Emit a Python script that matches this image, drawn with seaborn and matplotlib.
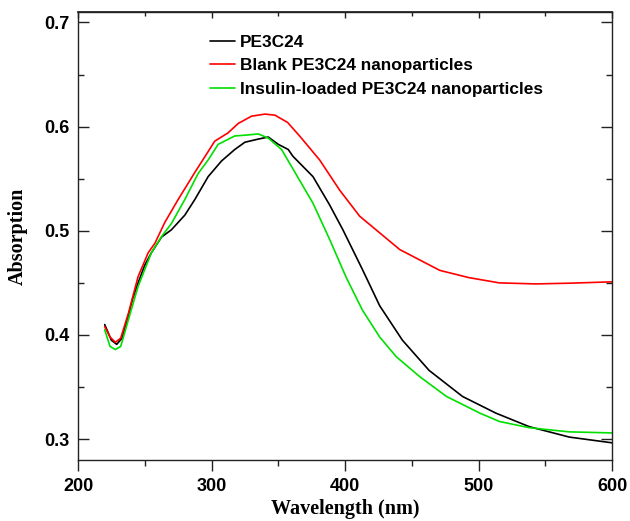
import numpy as np
import pandas as pd
import matplotlib
matplotlib.use("Agg")
import matplotlib.pyplot as plt
import seaborn as sns
from matplotlib.ticker import MultipleLocator

# ---- data ----
wl_black = [220, 225, 229, 233, 237.6, 241, 245, 250, 255, 262.6, 270, 280, 287.5,
            297.5, 307.5, 317.4, 325, 335, 342.5, 350, 357.5, 361, 376, 388.4, 398.4,
            413, 426, 443, 463, 488, 513, 538, 568, 600]
abs_black = [0.410, 0.395, 0.391, 0.397, 0.418, 0.435, 0.450, 0.467, 0.479, 0.494,
             0.501, 0.515, 0.530, 0.552, 0.567, 0.578, 0.585, 0.588, 0.590, 0.583,
             0.578, 0.5715, 0.552, 0.525, 0.501, 0.463, 0.428, 0.395, 0.366, 0.341,
             0.325, 0.312, 0.302, 0.2965]

wl_red = [220, 224, 228, 232, 237.8, 245, 252.6, 257.6, 265, 275, 287.5, 295, 302.4,
          312.4, 320, 330, 340, 347.5, 357, 366, 381, 396, 411, 426, 441, 456, 471,
          493, 515.6, 543, 568, 600]
abs_red = [0.408, 0.398, 0.393, 0.397, 0.421, 0.456, 0.479, 0.488, 0.508, 0.530,
           0.556, 0.571, 0.586, 0.594, 0.603, 0.610, 0.612, 0.611, 0.604, 0.591,
           0.568, 0.539, 0.514, 0.498, 0.482, 0.472, 0.462, 0.455, 0.450, 0.449,
           0.4497, 0.451]

wl_green = [220, 224, 228, 232, 237.6, 245, 255, 262.6, 270, 280, 290, 297.5, 305,
            317.4, 327.5, 335, 342.5, 352.5, 363, 376, 388.4, 401, 413, 426, 438.5,
            456, 476, 501, 515.6, 538, 568, 600]
abs_green = [0.405, 0.389, 0.386, 0.389, 0.414, 0.4465, 0.479, 0.4945, 0.507, 0.530,
             0.555, 0.568, 0.583, 0.591, 0.592, 0.593, 0.589, 0.578, 0.555, 0.5265,
             0.492, 0.455, 0.424, 0.398, 0.379, 0.360, 0.341, 0.325, 0.317, 0.311,
             0.307, 0.306]

labels = ["PE3C24", "Blank PE3C24 nanoparticles", "Insulin-loaded PE3C24 nanoparticles"]
colors = ["#000000", "#ff0000", "#00e000"]

x_ticks = [200, 300, 400, 500, 600]
y_ticks = [0.3, 0.4, 0.5, 0.6, 0.7]

# ---- plot ----
sns.set_theme(style="white")
plt.rcParams["font.family"] = ["Liberation Sans", "DejaVu Sans"]
plt.rcParams["text.color"] = "black"
plt.rcParams["axes.labelcolor"] = "black"
plt.rcParams["xtick.color"] = "black"
plt.rcParams["ytick.color"] = "black"

fig = plt.figure(figsize=(6.30, 5.21), dpi=100)
ax = fig.add_axes([78 / 630, 1 - 460 / 521, (612 - 78) / 630, (460 - 12) / 521])

series = [(wl_black, abs_black), (wl_red, abs_red), (wl_green, abs_green)]
for (xs, ys), lab, col in zip(series, labels, colors):
    df = pd.DataFrame({"Wavelength": xs, "Absorption": ys})
    sns.lineplot(data=df, x="Wavelength", y="Absorption", ax=ax, color=col,
                 linewidth=1.2, label=lab, sort=False)

ax.set_xlim(200, 600)
ax.set_ylim(0.28, 0.71)
ax.set_xticks(x_ticks)
ax.set_xticklabels([str(v) for v in x_ticks])
ax.set_yticks(y_ticks)
ax.set_yticklabels([f"{v:.1f}" for v in y_ticks])
ax.xaxis.set_minor_locator(MultipleLocator(50))
ax.yaxis.set_minor_locator(MultipleLocator(0.05))

for s in ax.spines.values():
    s.set_visible(True)
    s.set_color("#222222")
    s.set_linewidth(1.0)

ax.tick_params(axis="x", which="major", bottom=True, top=False, direction="out",
               length=8, width=1.0, color="#222222", labelcolor="black",
               labelsize=13, pad=5)
ax.tick_params(axis="x", which="minor", bottom=True, top=False, direction="out",
               length=4, width=1.0, color="#222222")
ax.tick_params(axis="y", which="major", left=True, right=True, direction="in",
               length=8, width=1.0, color="#222222", labelcolor="black",
               labelsize=13, pad=6)
ax.tick_params(axis="y", which="minor", left=True, right=True, direction="in",
               length=4, width=1.0, color="#222222")
for lab in ax.get_xticklabels() + ax.get_yticklabels():
    lab.set_fontweight("bold")

# inward ticks on the top edge
sec = ax.secondary_xaxis("top")
sec.set_xticks(x_ticks)
sec.xaxis.set_minor_locator(MultipleLocator(50))
sec.tick_params(axis="x", which="major", direction="in", length=4, width=1.0,
                color="#222222", labeltop=False)
sec.tick_params(axis="x", which="minor", direction="in", length=3, width=1.0,
                color="#222222")
sec.spines["top"].set_color("#222222")

ax.set_xlabel("Wavelength (nm)", fontfamily="Liberation Serif", fontweight="bold",
              fontsize=14.5, labelpad=3, color="black")
ax.set_ylabel("Absorption", fontfamily="Liberation Serif", fontweight="bold",
              fontsize=14.5, labelpad=12, color="black")

leg = ax.legend(loc="upper left", bbox_to_anchor=(0.235, 0.965), frameon=False,
                handlelength=1.45, handletextpad=0.25, labelspacing=0.5,
                borderaxespad=0.0, prop={"weight": "bold", "size": 12.4})
for t in leg.get_texts():
    t.set_color("black")

fig.savefig("out.png", dpi=100)
